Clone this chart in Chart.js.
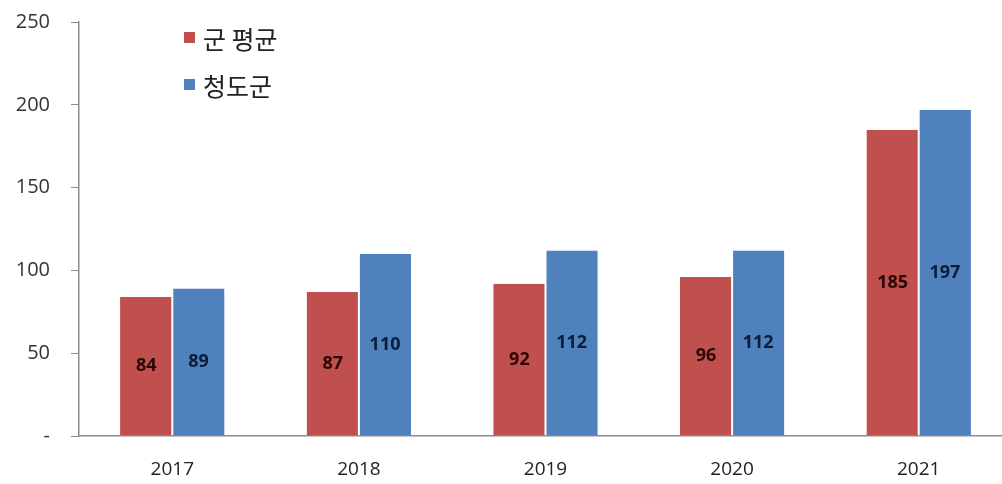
<!DOCTYPE html>
<html><head><meta charset="utf-8">
<script src="https://cdn.jsdelivr.net/npm/chart.js@4.4.1/dist/chart.umd.min.js"></script>
<style>
html,body{margin:0;padding:0;background:#fff;overflow:hidden;width:1002px;height:484px;}
#wrap{position:relative;width:1012px;height:484px;}
#legend{position:absolute;left:184px;top:14px;font-family:"Noto Sans CJK KR","Noto Sans",sans-serif;font-size:25px;color:#222;}
#legend .item{display:flex;align-items:center;height:47px;}
#legend .sw{width:11px;height:11px;margin-right:8px;}
</style></head>
<body>
<div id="wrap">
<canvas id="c" width="1012" height="484" style="width:1012px;height:484px;"></canvas>
<div id="legend"></div>
</div>
<script>
const categories = ["2017","2018","2019","2020","2021"];
const seriesNames = ["군 평균","청도군"];
const gunAvg = [84, 87, 92, 96, 185];
const cheongdo = [89, 110, 112, 112, 197];
const yTicks = [0, 50, 100, 150, 200, 250];
const colors = ["#C0504D", "#4F81BD"];
const labelColors = ["#2a0808", "#0c1d3a"];

const leg = document.getElementById('legend');
seriesNames.forEach((n,i)=>{
  const d=document.createElement('div');d.className='item';
  d.innerHTML='<span class="sw" style="background:'+colors[i]+'"></span><span>'+n+'</span>';
  leg.appendChild(d);
});

const valueLabels = {
  id:'valueLabels',
  afterDatasetsDraw(chart){
    const ctx=chart.ctx;
    ctx.save();
    ctx.font='bold 18px "Open Sans","Noto Sans",sans-serif';
    ctx.textAlign='center';ctx.textBaseline='middle';
    chart.data.datasets.forEach((ds,di)=>{
      const meta=chart.getDatasetMeta(di);
      ctx.fillStyle=labelColors[di];
      meta.data.forEach((bar,i)=>{
        const mid=(bar.y+bar.base)/2;
        ctx.fillText(String(ds.data[i]), bar.x, mid);
      });
    });
    ctx.restore();
  }
};

new Chart(document.getElementById('c'),{
  type:'bar',
  data:{labels:categories,datasets:[
    {label:seriesNames[0],data:gunAvg,backgroundColor:colors[0],borderColor:'rgba(255,255,255,0.6)',borderWidth:{left:0,right:1,top:0,bottom:0}},
    {label:seriesNames[1],data:cheongdo,backgroundColor:colors[1],borderColor:'rgba(255,255,255,0.6)',borderWidth:{left:1,right:0,top:0,bottom:0}}
  ]},
  options:{
    responsive:false,animation:false,
    layout:{padding:{top:22,right:0,left:0,bottom:0}},
    plugins:{legend:{display:false},tooltip:{enabled:false}},
    datasets:{bar:{categoryPercentage:0.56,barPercentage:1.0}},
    scales:{
      x:{
        grid:{display:false,drawTicks:false},
        border:{color:'#8c8c8c',width:1.5},
        ticks:{color:'#222',font:{size:19,family:'"Open Sans","Noto Sans",sans-serif'},padding:22},
        afterFit(s){s.height=48;s.paddingLeft=0;s.paddingRight=0;}
      },
      y:{
        min:0,max:250,
        afterBuildTicks(s){s.ticks=yTicks.map(v=>({value:v}));},
        grid:{drawOnChartArea:false,drawTicks:true,tickLength:8,color:'#8c8c8c',tickColor:'#8c8c8c'},
        border:{color:'#8c8c8c',width:1.5},
        ticks:{color:'#333',font:{size:20,family:'"Open Sans","Noto Sans",sans-serif'},padding:21,
          callback:(v)=> v===0 ? '-' : String(v)},
        afterFit(s){s.width=79;s.paddingTop=0;s.paddingBottom=0;}
      }
    }
  },
  plugins:[valueLabels]
});
</script>
</body></html>
